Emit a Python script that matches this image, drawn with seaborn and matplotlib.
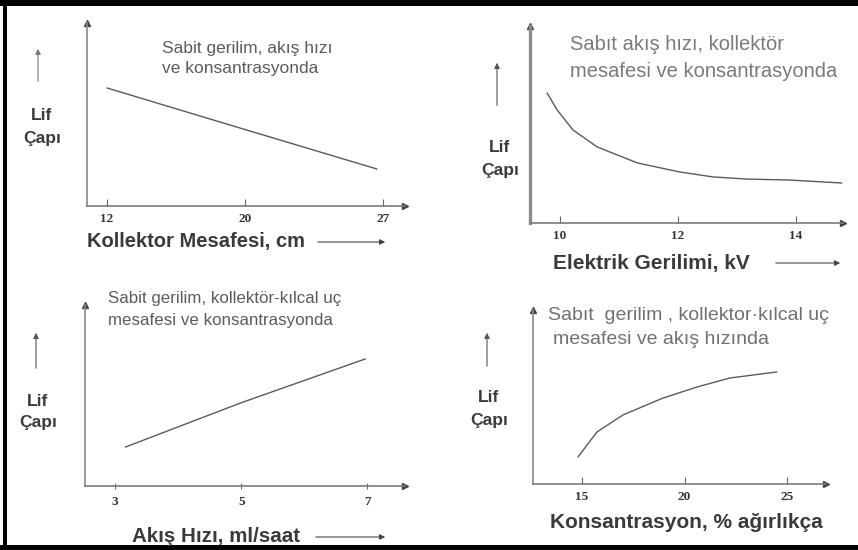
import numpy as np
import matplotlib
matplotlib.use("Agg")
import matplotlib.pyplot as plt
from matplotlib.patches import Rectangle
import seaborn as sns

# ---- data -------------------------------------------------------------
# Fiber diameter (relative units) vs collector distance, cm
dist_ticks = [12, 20, 27]
dist_x = [12.0, 20.0, 26.7]
dist_y = [0.645, 0.418, 0.202]

# Fiber diameter vs applied voltage, kV
volt_ticks = [10, 12, 14]
volt_x = [9.78, 9.95, 10.22, 10.63, 11.31, 12.03, 12.59, 13.17, 13.90, 14.78]
volt_y = [0.660, 0.574, 0.472, 0.386, 0.305, 0.259, 0.234, 0.223, 0.218, 0.203]

# Fiber diameter vs flow rate, ml/h
flow_ticks = [3, 5, 7]
flow_x = [3.16, 5.0, 6.97]
flow_y = [0.215, 0.460, 0.702]

# Fiber diameter vs concentration, wt %
conc_ticks = [15, 20, 25]
conc_x = [14.8, 15.73, 17.0, 18.95, 20.6, 22.2, 24.5]
conc_y = [0.155, 0.299, 0.397, 0.494, 0.557, 0.609, 0.644]

# ---- style ------------------------------------------------------------
sns.set_theme(style="white")
plt.rcParams["font.family"] = ["Liberation Sans", "DejaVu Sans"]

W, H = 858, 550
fig = plt.figure(figsize=(W / 100, H / 100), dpi=100)
fig.patch.set_facecolor("white")

AXIS = "#7a7a7a"
CURVE = "#5a5a5a"
NOTE = "#5c5c5c"
LABEL = "#3a3a3a"


def box(l, t, r, b):
    return [l / W, 1 - b / H, (r - l) / W, (b - t) / H]


def piecewise_scale(ticks):
    """Scale that puts the given tick values at equal spacing."""
    t = np.asarray(ticks, float)
    p = np.arange(len(t), dtype=float)

    def fwd(x):
        x = np.asarray(x, float)
        y = np.interp(x, t, p)
        y = np.where(x < t[0], (x - t[0]) / (t[1] - t[0]), y)
        y = np.where(x > t[-1], p[-1] + (x - t[-1]) / (t[-1] - t[-2]), y)
        return y

    def inv(y):
        y = np.asarray(y, float)
        x = np.interp(y, p, t)
        x = np.where(y < 0, t[0] + y * (t[1] - t[0]), x)
        x = np.where(y > p[-1], t[-1] + (y - p[-1]) * (t[-1] - t[-2]), x)
        return x

    return fwd, inv


def make_axes(rect, ticks, xlim, x, y, left_lw=1.2, tick_dir="in"):
    ax = fig.add_axes(rect)
    ax.set_facecolor("none")
    ax.set_xscale("function", functions=piecewise_scale(ticks))
    sns.lineplot(x=x, y=y, ax=ax, color=CURVE, linewidth=1.0)
    ax.set_xlim(*xlim)
    ax.set_ylim(0, 1)
    for s in ("top", "right"):
        ax.spines[s].set_visible(False)
    ax.spines["left"].set_color("#8a8a8a")
    ax.spines["left"].set_linewidth(left_lw)
    ax.spines["bottom"].set_color(AXIS)
    ax.spines["bottom"].set_linewidth(1.2)
    ax.set_yticks([])
    ax.set_xticks(ticks)
    ax.set_xticklabels([str(v) for v in ticks], fontfamily="Liberation Serif",
                       fontweight="bold", fontsize=9.5, color="#333333")
    ax.xaxis.set_minor_locator(matplotlib.ticker.NullLocator())
    ax.tick_params(axis="x", direction=tick_dir, length=5, width=0.8,
                   color="#666666", pad=5, bottom=True)
    ax.set_xlabel("")
    ax.set_ylabel("")
    ax.plot(1, 0, ">", transform=ax.transAxes, clip_on=False,
            color="#444444", ms=5)
    ax.plot(0, 1, "^", transform=ax.transAxes, clip_on=False,
            color="#444444", ms=4)
    return ax


def ftext(x, y, s, **kw):
    fig.text(x / W, 1 - y / H, s, **kw)


def farrow(x0, y0, x1, y1, color="#444444"):
    fig.add_artist(matplotlib.patches.FancyArrowPatch(
        (x0 / W, 1 - y0 / H), (x1 / W, 1 - y1 / H),
        transform=fig.transFigure, arrowstyle="-|>", mutation_scale=8,
        color=color, lw=0.8))


def ylab(x, y1, y2):
    ftext(x, y1, "Lif", ha="center", va="center", fontsize=12.5,
          fontweight="bold", color=LABEL)
    ftext(x, y2, "Çapı", ha="center", va="center", fontsize=12.5,
          fontweight="bold", color=LABEL)


# ---- panel 1: collector distance --------------------------------------
make_axes(box(87, 23, 405, 206), dist_ticks, (10.84, 28.12), dist_x, dist_y)
ftext(162, 48, "Sabit gerilim, akış hızı", fontsize=12.5, color=NOTE, va="center")
ftext(162, 68, "ve konsantrasyonda", fontsize=12.5, color=NOTE, va="center")
ylab(42, 116, 139)
farrow(38, 84, 38, 46, color="#777777")
ftext(87, 242, "Kollektor Mesafesi, cm", fontsize=14.5, fontweight="bold",
      color=LABEL, va="center")
farrow(315, 242, 388, 242)

# ---- panel 2: voltage -------------------------------------------------
make_axes(box(530, 26, 843, 223), volt_ticks, (9.49, 14.80), volt_x, volt_y,
          left_lw=2.4)
ftext(570, 45, "Sabıt akış hızı, kollektör", fontsize=14.5, color="#7a7a7a",
      va="center")
ftext(570, 71, "mesafesi ve konsantrasyonda", fontsize=14.5, color="#7a7a7a",
      va="center")
ylab(500, 148, 171)
farrow(497, 108, 497, 60, color="#555555")
ftext(553, 263, "Elektrik Gerilimi, kV", fontsize=15, fontweight="bold",
      color=LABEL, va="center")
farrow(773, 263, 843, 263)

# ---- panel 3: flow rate -----------------------------------------------
make_axes(box(85, 305, 405, 486), flow_ticks, (2.52, 7.60), flow_x, flow_y,
          tick_dir="inout")
ftext(108, 299, "Sabit gerilim, kollektör-kılcal uç", fontsize=12.2,
      color=NOTE, va="center")
ftext(108, 320, "mesafesi ve konsantrasyonda", fontsize=12.2, color=NOTE,
      va="center")
ylab(38, 402, 423)
farrow(36, 371, 36, 330, color="#555555")
ftext(132, 537, "Akış Hızı, ml/saat", fontsize=14.8, fontweight="bold",
      color=LABEL, va="center")
farrow(313, 537, 388, 537)

# ---- panel 4: concentration -------------------------------------------
make_axes(box(533, 310, 826, 484), conc_ticks, (12.61, 26.90), conc_x, conc_y)
ftext(548, 316, "Sabıt  gerilim , kollektor·kılcal uç", fontsize=14,
      color="#707070", va="center")
ftext(553, 340, "mesafesi ve akış hızında", fontsize=14, color="#707070",
      va="center")
ylab(489, 397, 421)
farrow(487, 369, 487, 330, color="#555555")
ftext(550, 523, "Konsantrasyon, % ağırlıkça", fontsize=15, fontweight="bold",
      color=LABEL, va="center")

# ---- frame ------------------------------------------------------------
for (x0, y0, w, h) in [(0, 0, W, 6), (3, 0, 4, H), (0, H - 5, W, 5)]:
    fig.add_artist(Rectangle((x0 / W, 1 - (y0 + h) / H), w / W, h / H,
                             transform=fig.transFigure, color="black", lw=0))

fig.savefig("out.png", dpi=100)
